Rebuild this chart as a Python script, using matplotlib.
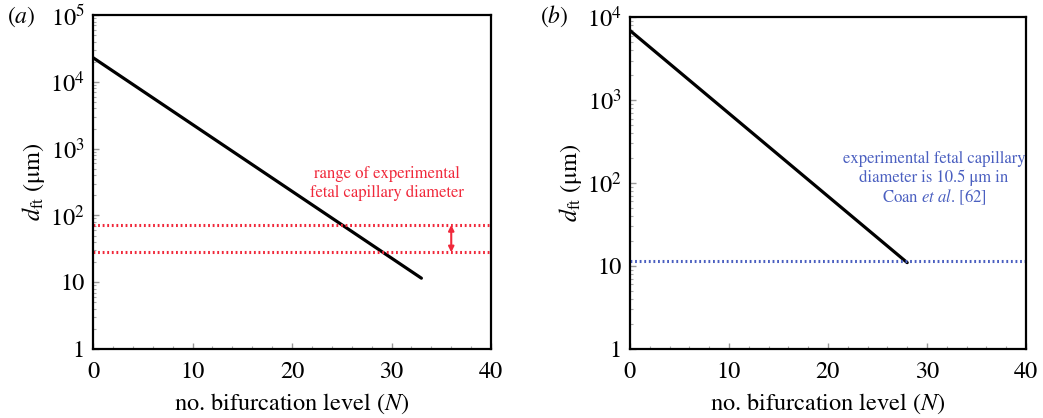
import numpy as np
import matplotlib
matplotlib.use('Agg')
import matplotlib.pyplot as plt
from matplotlib.ticker import LogLocator, FixedLocator, NullFormatter, FuncFormatter

plt.rcParams['font.family'] = ['STIXGeneral', 'Liberation Serif', 'DejaVu Serif']
plt.rcParams['mathtext.fontset'] = 'stix'

# panel (a): model diameter vs bifurcation level
n_a = [0, 33]
d_a = [2.3e4, 11.5]
range_lo, range_hi = 28, 72
arrow_n = 36

# panel (b)
n_b = [0, 28]
d_b = [6900, 11]
coan_d = 11.5

red = '#f0283a'
blue = '#4a5fc0'


def fmt_log(v, pos):
    if v == 1:
        return '1'
    if v == 10:
        return '10'
    e = int(round(np.log10(v)))
    return r'$10^{%d}$' % e


def style_axis(ax, ymax):
    ax.set_yscale('log')
    ax.set_xlim(0, 40)
    ax.set_ylim(1, ymax)
    ax.set_xticks([0, 10, 20, 30, 40])
    ax.xaxis.set_minor_locator(FixedLocator(np.arange(0, 41, 2)))
    ax.yaxis.set_major_locator(LogLocator(base=10, numticks=10))
    ax.yaxis.set_minor_locator(LogLocator(base=10, subs=np.arange(2, 10), numticks=10))
    ax.yaxis.set_major_formatter(FuncFormatter(fmt_log))
    ax.yaxis.set_minor_formatter(NullFormatter())
    ax.tick_params(which='both', direction='in', labelsize=17.5, pad=6)
    ax.tick_params(axis='x', pad=9)
    ax.tick_params(which='major', length=4, width=1, color='#999999')
    ax.tick_params(which='minor', length=2.5, width=0.8, color='#aaaaaa')
    ax.tick_params(top=False, right=False, which='both')
    for s in ax.spines.values():
        s.set_linewidth(1.6)
    ax.set_xlabel('no. bifurcation level ($\\it{N}$)', fontsize=17.5, labelpad=6)
    ax.set_ylabel('$d_{\\rm ft}$ (μm)', fontsize=17.5, labelpad=2)


fig = plt.figure(figsize=(10.43, 4.18), dpi=100)
ax1 = fig.add_axes([0.0892, 0.165, 0.3816, 0.799])
ax2 = fig.add_axes([0.604, 0.165, 0.3797, 0.794])

ax1.plot(n_a, d_a, color='black', lw=2.3, solid_capstyle='round')
ax1.axhline(range_hi, color=red, lw=2.2, ls=(0, (0.6, 0.9)))
ax1.axhline(range_lo, color=red, lw=2.2, ls=(0, (0.6, 0.9)))
ax1.annotate('', xy=(arrow_n, range_lo), xytext=(arrow_n, range_hi),
             arrowprops=dict(arrowstyle='<|-|>', color=red, lw=1.5,
                             mutation_scale=8, shrinkA=0, shrinkB=0))
ax1.text(29.5, 300, 'range of experimental\nfetal capillary diameter', color=red,
         fontsize=12, ha='center', va='center', linespacing=1.25)
style_axis(ax1, 1e5)
fig.text(0.007, 0.945, '($\\it{a}$)', fontsize=17)

ax2.plot(n_b, d_b, color='black', lw=2.3, solid_capstyle='round')
ax2.axhline(coan_d, color=blue, lw=2.2, ls=(0, (0.6, 0.9)))
blue_lines = ['experimental fetal capillary', 'diameter is 10.5 μm in',
              'Coan $\\it{et\\ al}$. [62]']
for i, s in enumerate(blue_lines):
    ax2.text(30.7, 175 / (10 ** (0.235 * i)), s, color=blue, fontsize=12,
             ha='center', va='baseline')
style_axis(ax2, 1e4)
fig.text(0.518, 0.945, '($\\it{b}$)', fontsize=17)

fig.savefig('out.png', dpi=100)
